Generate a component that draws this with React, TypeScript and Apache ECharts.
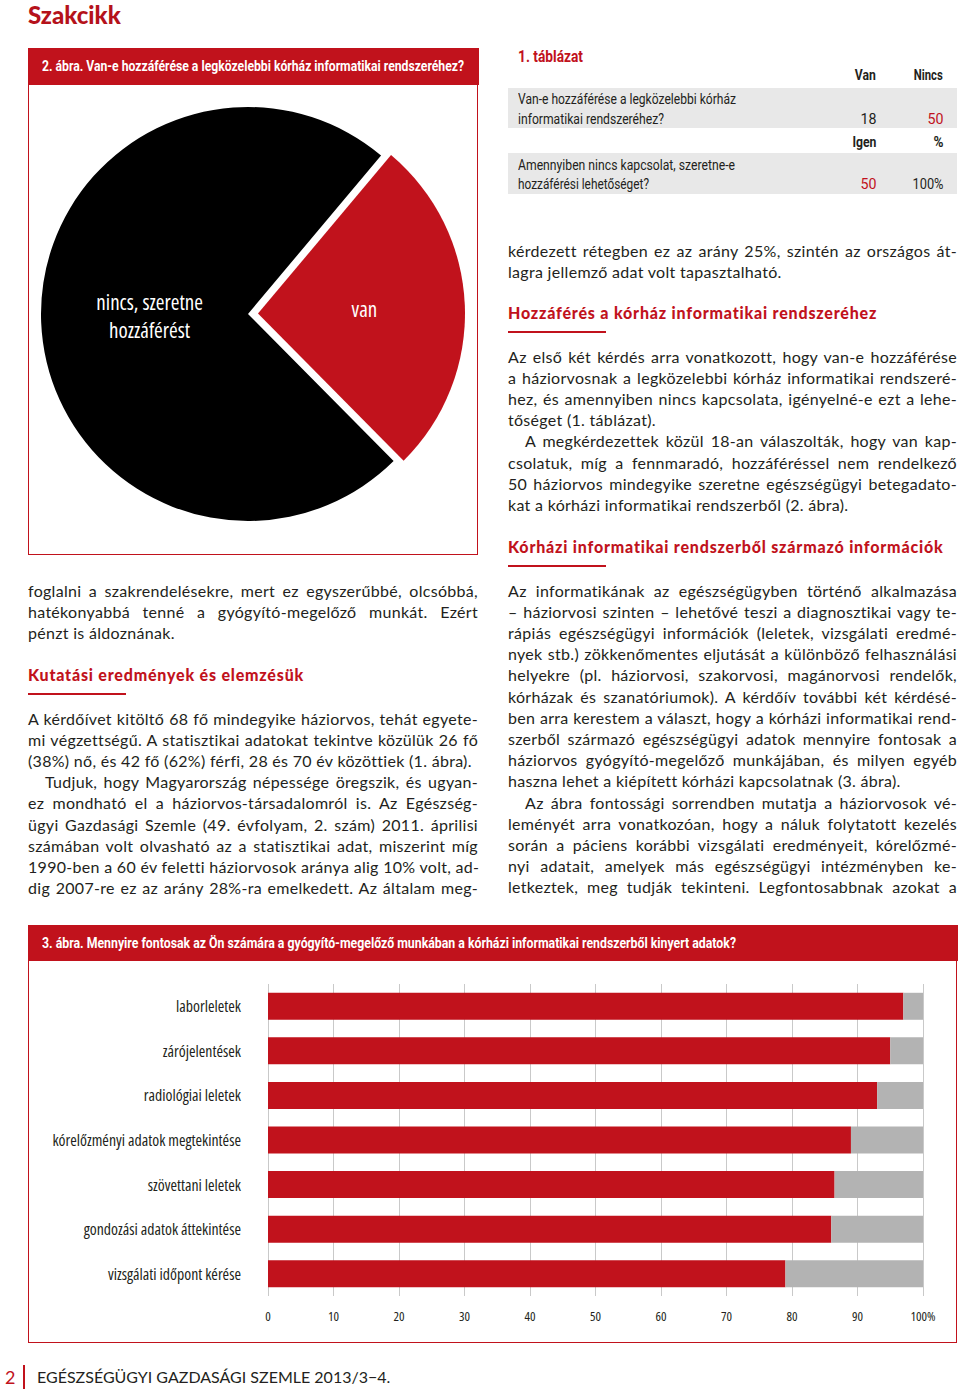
import React, { useEffect, useLayoutEffect, useRef } from "react";
import * as echarts from "echarts";

// ---------- data ----------
const pieCategories = ["van", "nincs, szeretne\nhozzáférést"];
const pieValues = [18, 50];

const barCategories = [
  "laborleletek",
  "zárójelentések",
  "radiológiai leletek",
  "kórelőzményi adatok megtekintése",
  "szövettani leletek",
  "gondozási adatok áttekintése",
  "vizsgálati időpont kérése",
];
const barImportant = [97, 95, 93, 89, 86.5, 86, 79];
const barRest = [3, 5, 7, 11, 13.5, 14, 21];
const xTickLabels = ["0", "10", "20", "30", "40", "50", "60", "70", "80", "90", "100%"];

const tableHeader1 = ["Van", "Nincs"];
const tableRow1Text = ["Van-e hozzáférése a legközelebbi kórház", "informatikai rendszeréhez?"];
const tableRow1Values = ["18", "50"];
const tableHeader2 = ["Igen", "%"];
const tableRow2Text = ["Amennyiben nincs kapcsolat, szeretne-e", "hozzáférési lehetőséget?"];
const tableRow2Values = ["50", "100%"];

const leftTop = [
  [
    "foglalni a szakrendelésekre, mert ez egyszerűbbé, olcsóbbá,",
    "hatékonyabbá tenné a gyógyító-megelőző munkát. Ezért",
    "pénzt is áldoznának.",
  ],
];
const leftBody = [
  [
    "A kérdőívet kitöltő 68 fő mindegyike háziorvos, tehát egyete-",
    "mi végzettségű. A statisztikai adatokat tekintve közülük 26 fő",
    "(38%) nő, és 42 fő (62%) férfi, 28 és 70 év közöttiek (1. ábra).",
  ],
  [
    "Tudjuk, hogy Magyarország népessége öregszik, és ugyan-",
    "ez mondható el a háziorvos-társadalomról is. Az Egészség-",
    "ügyi Gazdasági Szemle (49. évfolyam, 2. szám) 2011. áprilisi",
    "számában volt olvasható az a statisztikai adat, miszerint míg",
    "1990-ben a 60 év feletti háziorvosok aránya alig 10% volt, ad-",
    "dig 2007-re ez az arány 28%-ra emelkedett. Az általam meg-",
  ],
];
const rightTop = [
  [
    "kérdezett rétegben ez az arány 25%, szintén az országos át-",
    "lagra jellemző adat volt tapasztalható.",
  ],
];
const rightBody1 = [
  [
    "Az első két kérdés arra vonatkozott, hogy van-e hozzáférése",
    "a háziorvosnak a legközelebbi kórház informatikai rendszeré-",
    "hez, és amennyiben nincs kapcsolata, igényelné-e ezt a lehe-",
    "tőséget (1. táblázat).",
  ],
  [
    "A megkérdezettek közül 18-an válaszolták, hogy van kap-",
    "csolatuk, míg a fennmaradó, hozzáféréssel nem rendelkező",
    "50 háziorvos mindegyike szeretne egészségügyi betegadato-",
    "kat a kórházi informatikai rendszerből (2. ábra).",
  ],
];
const rightBody2 = [
  [
    "Az informatikának az egészségügyben történő alkalmazása",
    "– háziorvosi szinten – lehetővé teszi a diagnosztikai vagy te-",
    "rápiás egészségügyi információk (leletek, vizsgálati eredmé-",
    "nyek stb.) zökkenőmentes eljutását a különböző felhasználási",
    "helyekre (pl. háziorvosi, szakorvosi, magánorvosi rendelők,",
    "kórházak és szanatóriumok). A kérdőív további két kérdésé-",
    "ben arra kerestem a választ, hogy a kórházi informatikai rend-",
    "szerből származó egészségügyi adatok mennyire fontosak a",
    "háziorvos gyógyító-megelőző munkájában, és milyen egyéb",
    "haszna lehet a kiépített kórházi kapcsolatnak (3. ábra).",
  ],
  [
    "Az ábra fontossági sorrendben mutatja a háziorvosok vé-",
    "leményét arra vonatkozóan, hogy a náluk folytatott kezelés",
    "során a páciens korábbi vizsgálati eredményeit, kórelőzmé-",
    "nyi adatait, amelyek más egészségügyi intézményben ke-",
    "letkeztek, meg tudják tekinteni. Legfontosabbnak azokat a",
  ],
];

// ---------- styles ----------
const RED = "#c1121c";
const TEXT = "#231f20";
const BODY_FONT = "Lato, 'Open Sans', sans-serif";
const COND = "Roboto, 'Noto Sans', sans-serif";
const SVG_COND = "'Open Sans', Roboto, sans-serif";
const LH = 21.2;

type Block = { x: number; y: number; w: number; paras: string[][]; cont?: boolean };

function TextBlock({ x, y, w, paras, cont }: Block) {
  const out: React.ReactNode[] = [];
  let row = 0;
  paras.forEach((p, pi) => {
    p.forEach((line, li) => {
      const isLast = li === p.length - 1;
      const justify = !isLast || (cont && pi === paras.length - 1);
      const indent = pi > 0 && li === 0 ? 17 : 0;
      out.push(
        <div
          key={pi + "-" + li}
          style={{
            position: "absolute",
            left: x + indent,
            top: y + row * LH,
            width: w - indent,
            height: LH,
            lineHeight: LH + "px",
            whiteSpace: "nowrap",
            textAlign: justify ? "justify" : "left",
            textAlignLast: justify ? "justify" : "left",
            fontFamily: BODY_FONT,
            fontSize: 16,
            letterSpacing: "0.3px",
            color: TEXT,
          } as React.CSSProperties}
        >
          {line}
        </div>
      );
      row++;
    });
  });
  return <>{out}</>;
}

function Heading({ x, y, text }: { x: number; y: number; text: string }) {
  return (
    <>
      <div
        style={{
          position: "absolute",
          left: x,
          top: y - 11,
          height: 22,
          lineHeight: "22px",
          whiteSpace: "nowrap",
          fontFamily: BODY_FONT,
          fontWeight: 900,
          fontSize: 16,
          letterSpacing: "0.8px",
          color: RED,
        }}
      >
        {text}
      </div>
      <div style={{ position: "absolute", left: x, top: y + 18, width: 98, height: 2, background: RED }} />
    </>
  );
}

// condensed text: the text is squeezed horizontally to the width that it has in the reference
function FitText({
  x,
  cy,
  w,
  right,
  size = 15.5,
  bold,
  color = TEXT,
  children,
}: {
  x: number;
  cy: number;
  w: number;
  right?: boolean;
  size?: number;
  bold?: boolean;
  color?: string;
  children: React.ReactNode;
}) {
  const ref = useRef<HTMLSpanElement>(null);
  useLayoutEffect(() => {
    const el = ref.current!;
    el.style.transform = "none";
    const nat = el.getBoundingClientRect().width;
    if (nat > 0) el.style.transform = `scaleX(${w / nat})`;
  }, [w]);
  const h = 22;
  return (
    <div
      style={{
        position: "absolute",
        left: right ? x - 600 : x,
        top: cy - h / 2,
        width: 600,
        height: h,
        lineHeight: h + "px",
        textAlign: right ? "right" : "left",
        whiteSpace: "nowrap",
      }}
    >
      <span
        ref={ref}
        style={{
          display: "inline-block",
          transformOrigin: right ? "right center" : "left center",
          fontFamily: COND,
          fontSize: size,
          fontWeight: bold ? 700 : 400,
          color,
        }}
      >
        {children}
      </span>
    </div>
  );
}

function abs(l: number, t: number, extra: React.CSSProperties = {}): React.CSSProperties {
  return { position: "absolute", left: l, top: t, ...extra };
}

const pieLabelOffsets = [
  [0, 0],
  [8, -2],
];
const pieLabelPadding = [
  [13, 0, 0, 0],
  [0, 0, 0, 0],
];

function PieChart() {
  const ref = useRef<HTMLDivElement>(null);
  useEffect(() => {
    const chart = echarts.init(ref.current!, null, { renderer: "svg" });
    chart.setOption({
      animation: false,
      series: [
        {
          type: "pie",
          center: [219, 228],
          radius: 207,
          startAngle: 50,
          clockwise: true,
          selectedMode: "single",
          selectedOffset: 10,
          emphasis: { scale: false },
          label: {
            show: true,
            position: "inside",
            color: "#ffffff",
            fontSize: 21,
            lineHeight: 28,
            fontFamily: SVG_COND,
          },
          labelLine: { show: false },
          itemStyle: { borderWidth: 0 },
          data: pieCategories.map((n, i) => ({
            name: n,
            value: pieValues[i],
            selected: i === 0,
            label: { offset: pieLabelOffsets[i], padding: pieLabelPadding[i] },
            itemStyle: { color: i === 0 ? RED : "#000000" },
          })),
        },
      ],
    });
    return () => chart.dispose();
  }, []);
  return <div ref={ref} className="condsvg" style={abs(29, 86, { width: 448, height: 468 })} />;
}

function BarChart() {
  const ref = useRef<HTMLDivElement>(null);
  useEffect(() => {
    const chart = echarts.init(ref.current!, null, { renderer: "svg" });
    chart.setOption({
      animation: false,
      grid: { left: 239, right: 33, top: 22, bottom: 46, containLabel: false, outerBoundsMode: "none" },
      xAxis: {
        type: "value",
        min: 0,
        max: 100,
        interval: 10,
        axisLine: { show: false },
        axisTick: { show: false },
        splitLine: { show: true, lineStyle: { color: "#c9c9c9", width: 1 } },
        axisLabel: {
          formatter: (v: number) => xTickLabels[Math.round(v / 10)],
          fontSize: 13,
          color: TEXT,
          fontFamily: SVG_COND,
          margin: 13,
        },
      },
      yAxis: {
        type: "category",
        inverse: true,
        data: barCategories,
        axisLine: { show: false },
        axisTick: { show: false },
        axisLabel: { fontSize: 15.8, color: TEXT, margin: 27, fontFamily: SVG_COND },
      },
      series: [
        { type: "bar", stack: "a", data: barImportant, barWidth: 27, itemStyle: { color: RED }, emphasis: { disabled: true } },
        { type: "bar", stack: "a", data: barRest, barWidth: 27, itemStyle: { color: "#b3b3b3" }, emphasis: { disabled: true } },
      ],
    });
    return () => chart.dispose();
  }, []);
  return <div ref={ref} className="condsvg" style={abs(29, 962, { width: 927, height: 380 })} />;
}

export default function App() {
  return (
    <div style={{ position: "absolute", left: 0, top: 0, width: 960, height: 1389, background: "#fff", overflow: "hidden" }}>
      <style>{`.condsvg text { font-stretch: 75% !important; }`}</style>
      {/* page title */}
      <div style={abs(28, 0, { fontFamily: BODY_FONT, fontWeight: 900, fontSize: 24, color: "#b5121b", lineHeight: "29px", height: 29, whiteSpace: "nowrap" })}>Szakcikk</div>

      {/* figure 2 box */}
      <div style={abs(28, 48, { width: 448, height: 505, border: "1.5px solid " + RED })} />
      <div style={abs(28, 48, { width: 451, height: 37, background: RED })} />
      <FitText x={42} cy={66} w={422} size={15} bold color="#ffffff">
        2. ábra. Van-e hozzáférése a legközelebbi kórház informatikai rendszeréhez?
      </FitText>
      <PieChart />

      {/* table 1 */}
      <FitText x={518} cy={56} w={65} size={17} bold color={RED}>1. táblázat</FitText>
      <div style={abs(508, 88, { width: 449, height: 40, background: "#e8e8e8" })} />
      <div style={abs(508, 153, { width: 449, height: 41, background: "#e8e8e8" })} />
      <FitText x={876} cy={75} w={21} right bold>{tableHeader1[0]}</FitText>
      <FitText x={943} cy={75} w={29} right bold>{tableHeader1[1]}</FitText>
      <FitText x={518} cy={99} w={218}>{tableRow1Text[0]}</FitText>
      <FitText x={518} cy={118.5} w={146}>{tableRow1Text[1]}</FitText>
      <FitText x={876} cy={118.5} w={16} right>{tableRow1Values[0]}</FitText>
      <FitText x={943} cy={118.5} w={16} right color={RED}>{tableRow1Values[1]}</FitText>
      <FitText x={876} cy={142} w={24} right bold>{tableHeader2[0]}</FitText>
      <FitText x={943} cy={142} w={10} right bold>{tableHeader2[1]}</FitText>
      <FitText x={518} cy={164.5} w={217}>{tableRow2Text[0]}</FitText>
      <FitText x={518} cy={184} w={131}>{tableRow2Text[1]}</FitText>
      <FitText x={876} cy={184} w={16} right color={RED}>{tableRow2Values[0]}</FitText>
      <FitText x={943} cy={184} w={31} right>{tableRow2Values[1]}</FitText>

      {/* right column text */}
      <TextBlock x={508} y={239.5} w={449} paras={rightTop} />
      <Heading x={508} y={313} text="Hozzáférés a kórház informatikai rendszeréhez" />
      <TextBlock x={508} y={345.5} w={449} paras={rightBody1} />
      <Heading x={508} y={547} text="Kórházi informatikai rendszerből származó információk" />
      <TextBlock x={508} y={579.5} w={449} paras={rightBody2} cont />

      {/* left column text */}
      <TextBlock x={28} y={579.5} w={450} paras={leftTop} />
      <Heading x={28} y={675} text="Kutatási eredmények és elemzésük" />
      <TextBlock x={28} y={707.5} w={450} paras={leftBody} cont />

      {/* figure 3 box */}
      <div style={abs(28, 925, { width: 927, height: 416, border: "1.5px solid " + RED })} />
      <div style={abs(28, 925, { width: 930, height: 36, background: RED })} />
      <FitText x={42} cy={943} w={694} size={15} bold color="#ffffff">
        3. ábra. Mennyire fontosak az Ön számára a gyógyító-megelőző munkában a kórházi informatikai rendszerből kinyert adatok?
      </FitText>
      <BarChart />

      {/* footer */}
      <div style={abs(5, 1365, { fontFamily: BODY_FONT, fontSize: 18, color: RED, lineHeight: "24px" })}>2</div>
      <div style={abs(23, 1365, { width: 1.5, height: 24, background: RED })} />
      <div style={abs(37, 1365, { fontFamily: BODY_FONT, fontSize: 16, color: TEXT, lineHeight: "24px", whiteSpace: "nowrap" })}>
        EGÉSZSÉGÜGYI GAZDASÁGI SZEMLE 2013/3−4.
      </div>
    </div>
  );
}
